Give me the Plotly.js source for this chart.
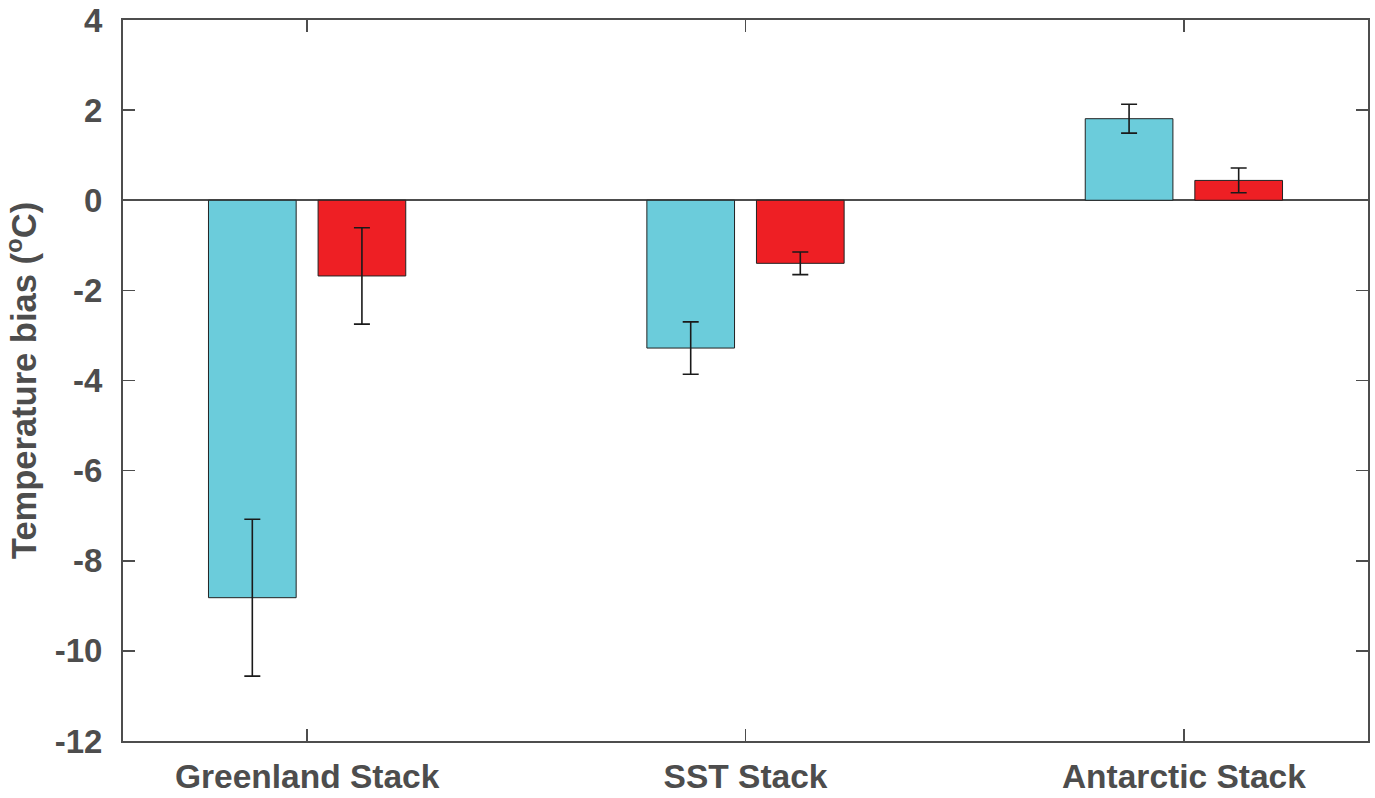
<!DOCTYPE html>
<html>
<head>
<meta charset="utf-8">
<script src="https://cdn.plot.ly/plotly-3.0.1.min.js"></script>
<style>html,body{margin:0;padding:0;background:#fff;}#chart{width:1375px;height:798px;}</style>
</head>
<body>
<div id="chart"></div>
<script>
const categories = ["Greenland Stack", "SST Stack", "Antarctic Stack"];
const seriesA = [-8.82, -3.28, 1.81];
const errorA = [1.74, 0.58, 0.32];
const seriesB = [-1.68, -1.40, 0.44];
const errorB = [1.07, 0.25, 0.275];
const yTicks = [-12, -10, -8, -6, -4, -2, 0, 2, 4];

const axisColor = "#4d4d4d";
const fontFam = "Liberation Sans, Arial, Helvetica, sans-serif";

const traces = [
  {
    type: "bar", x: categories, y: seriesA, name: "A",
    marker: {color: "#6bccdb", line: {color: "#222222", width: 1}},
    error_y: {type: "data", array: errorA, visible: true, color: "#1a1a1a", thickness: 1.6, width: 8}
  },
  {
    type: "bar", x: categories, y: seriesB, name: "B",
    marker: {color: "#ee1f24", line: {color: "#222222", width: 1}},
    error_y: {type: "data", array: errorB, visible: true, color: "#1a1a1a", thickness: 1.6, width: 8}
  }
];

const layout = {
  width: 1375, height: 798,
  margin: {l: 123, r: 7, t: 20, b: 57},
  paper_bgcolor: "#ffffff", plot_bgcolor: "#ffffff",
  showlegend: false,
  barmode: "group", bargap: 0.5, bargroupgap: 0.2,
  font: {family: fontFam, color: axisColor, size: 33, weight: "bold"},
  xaxis: {
    type: "category", range: [-0.42, 2.42],
    showline: true, linecolor: axisColor, linewidth: 2, mirror: "ticks",
    ticks: "inside", ticklen: 12, tickwidth: 1.5, tickcolor: axisColor,
    showgrid: false, zeroline: false,
    tickfont: {family: fontFam, size: 33.5, color: axisColor, weight: "bold"},
    ticklabelstandoff: 5
  },
  yaxis: {
    range: [-12, 4], tickvals: yTicks, ticktext: yTicks.map(String),
    showline: true, linecolor: axisColor, linewidth: 2, mirror: "ticks",
    ticks: "inside", ticklen: 12, tickwidth: 1.5, tickcolor: axisColor,
    showgrid: false, zeroline: true, zerolinecolor: axisColor, zerolinewidth: 2,
    tickfont: {family: fontFam, size: 33, color: axisColor, weight: "bold"},
    ticklabelstandoff: 12,
    title: {text: "Temperature bias (<sup>o</sup>C)", font: {family: fontFam, size: 34.5, color: axisColor, weight: "bold"}, standoff: 10}
  }
};

Plotly.newPlot("chart", traces, layout, {displayModeBar: false, staticPlot: true});
</script>
</body>
</html>
